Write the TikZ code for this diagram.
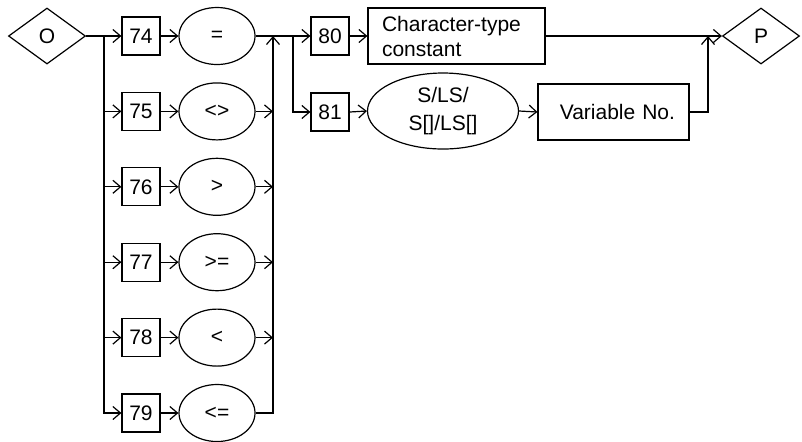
\documentclass[tikz,border=0pt]{standalone}
\usepackage{fontspec}
\setmainfont{Liberation Sans}
\usetikzlibrary{arrows.meta, positioning, shapes.geometric}

\begin{document}
\begin{tikzpicture}[x=0.5pt, y=-0.5pt, line width=0.6pt,
  >={Straight Barb[length=3.8pt,width=6.5pt]},
  every node/.style={font=\fontsize{10.5}{12.5}\selectfont, inner sep=0pt},
  numbox/.style={draw, minimum width=19pt, minimum height=19pt},
  opell/.style={draw, ellipse, minimum width=38pt, minimum height=28.5pt},
  gate/.style={draw, diamond, minimum width=38.5pt, minimum height=28pt},
  txtbox/.style={draw, minimum height=28pt, inner xsep=7pt}]
  \useasboundingbox (0,0) rectangle (802,441);
  \node[gate] (O) at (47,36) {O};
  \node[gate] (P) at (761,36) {P};
  \foreach \n/\op [count=\k from 0] in {74/=,75/<>,76/>,77/>=,78/<,79/<=} {
    \node[numbox] (n\n) at (141,36+75.4*\k) {\n};
    \node[opell] (e\n) at (217,36+75.4*\k) {\op};
  }
  \node[numbox] (n80) at (330,36) {80};
  \node[numbox] (n81) at (330,112) {81};
  \node[txtbox, text width=74.5pt, align=left] (chr) at (456.5,36) {Character-type\\constant};
  \node[opell, minimum width=75.5pt, minimum height=38pt, align=center,
    font=\fontsize{10.5}{14}\selectfont] (svar) at (443,111) {S/LS/\\S[]/LS[]};
  \node[txtbox, text width=61.5pt, align=right] (varno) at (613.5,112) {Variable No.};

  \coordinate (splitL) at (104,36);
  \coordinate (joinR) at (273,36);
  \coordinate (split2) at (293,36);
  \coordinate (joinP) at (708,36);

  \draw[->] (O.east) -- (n74.west);
  \draw[->] (splitL) |- (n79.west);
  \foreach \n in {75,76,77,78} {
    \draw[->] (n\n.west -| splitL) -- (n\n.west);
    \draw[->] (e\n.east) -- (e\n.east -| joinR);
  }
  \foreach \n in {74,...,79} \draw[->] (n\n.east) -- (e\n.west);
  \draw[->] (e79.east) -| (joinR);
  \draw (e74.east) -- (split2);
  \draw[->] (split2) -- (n80.west);
  \draw[->] (split2) |- (n81.west);
  \draw[->] (n80.east) -- (chr.west);
  \draw[->] (n81.east) -- (svar.west);
  \draw[->] (svar.east) -- (varno.west);
  \draw[->] (chr.east) -- (P.west);
  \draw[->] (varno.east) -| (joinP);
\end{tikzpicture}
\end{document}
